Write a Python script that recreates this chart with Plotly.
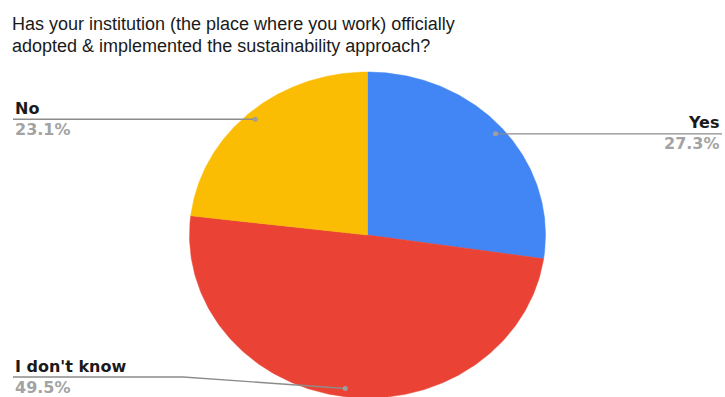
import numpy as np
import plotly.graph_objects as go

# Survey answers, in drawing order (clockwise from 12 o'clock)
categories = ["Yes", "I don't know", "No"]
shares = [27.3, 49.5, 23.1]
colors = ["#4285F4", "#EA4335", "#FBBC04"]
title_lines = [
    "Has your institution (the place where you work) officially",
    "adopted & implemented the sustainability approach?",
]

W, H = 725, 397
CX, CY = 367.5, 235.0      # pie centre (px)
RX, RY = 178.0, 163.0      # pie radii (px)
DOT_R = 0.95               # leader dot position as a fraction of the radius
LEFT_X, RIGHT_X = 13, 722  # label columns
LOWEST_LABEL_LINE = 377    # keep bottom label inside the canvas

fig = go.Figure()

total = sum(shares)
start = 0.0
dots = []
for cat, val, col in zip(categories, shares, colors):
    span = 360.0 * val / total
    th = np.radians(np.linspace(start, start + span, 200))
    xs = np.concatenate([[CX], CX + RX * np.sin(th), [CX]])
    ys = np.concatenate([[CY], CY - RY * np.cos(th), [CY]])
    fig.add_trace(go.Scatter(
        x=xs, y=ys, mode="lines", fill="toself", fillcolor=col,
        line=dict(color=col, width=0.5), hoverinfo="skip", showlegend=False,
    ))
    mid = np.radians(start + span / 2)
    dots.append((CX + DOT_R * RX * np.sin(mid), CY - DOT_R * RY * np.cos(mid),
                 np.sin(mid) >= 0, cat, val))
    start += span

label_font = dict(family="DejaVu Sans", size=16, color="#1a1a1a")
pct_font = dict(family="DejaVu Sans", size=16, color="#a3a3a3")

for dx, dy, right, cat, val in dots:
    ly = min(dy, LOWEST_LABEL_LINE)
    if right:
        lx = [dx, RIGHT_X]
        ly_pts = [dy, ly]
    else:
        if abs(ly - dy) > 1:
            bend = dx - 162
            lx = [LEFT_X, bend, dx]
            ly_pts = [ly, ly, dy]
        else:
            lx = [LEFT_X, dx]
            ly_pts = [ly, dy]
    fig.add_trace(go.Scatter(
        x=lx, y=ly_pts, mode="lines", line=dict(color="#8c8c8c", width=1.3),
        hoverinfo="skip", showlegend=False,
    ))
    fig.add_trace(go.Scatter(
        x=[dx], y=[dy], mode="markers", marker=dict(color="#9e9e9e", size=5),
        hoverinfo="skip", showlegend=False,
    ))
    tx = RIGHT_X if right else LEFT_X
    anchor = "right" if right else "left"
    fig.add_annotation(x=tx, y=ly - 11, xref="x", yref="y", text=f"<b>{cat}</b>",
                       showarrow=False, xanchor=anchor, yanchor="middle",
                       font=label_font)
    fig.add_annotation(x=tx, y=ly + 10, xref="x", yref="y", text=f"<b>{val}%</b>",
                       showarrow=False, xanchor=anchor, yanchor="middle",
                       font=pct_font)

title_font = dict(family="Liberation Sans, Arial, sans-serif", size=18, color="#1a1a1a")
for i, line in enumerate(title_lines):
    fig.add_annotation(x=10, y=24 + 21.5 * i, xref="x", yref="y", text=line,
                       showarrow=False, xanchor="left", yanchor="middle",
                       font=title_font)

fig.update_layout(
    width=W, height=H, autosize=False,
    margin=dict(l=0, r=0, t=0, b=0),
    paper_bgcolor="white", plot_bgcolor="white",
    xaxis=dict(range=[0, W], visible=False, fixedrange=True),
    yaxis=dict(range=[H, 0], visible=False, fixedrange=True),
)

fig.write_html("out.html")
